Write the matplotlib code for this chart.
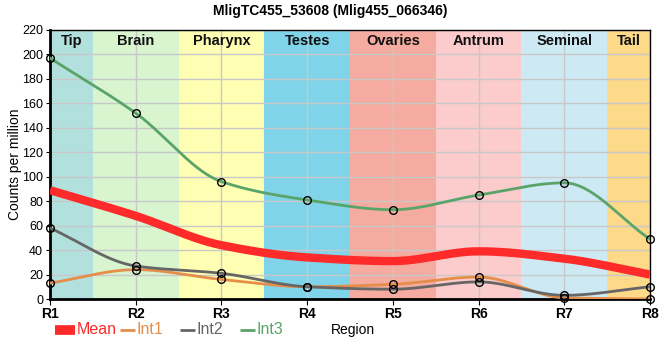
import matplotlib
matplotlib.use("Agg")
import matplotlib.pyplot as plt
from matplotlib.lines import Line2D
import numpy as np

plt.rcParams["font.family"] = ["Liberation Sans", "DejaVu Sans"]

# data
regions = ["R1", "R2", "R3", "R4", "R5", "R6", "R7", "R8"]
mean_vals = [89, 68, 44, 34, 31, 39, 33, 20]
int1 = [13, 24, 16, 10, 12, 18, 1, 0]
int2 = [58, 27, 21, 10, 8, 14, 3, 10]
int3 = [197, 152, 96, 81, 73, 85, 95, 49]

tissues = ["Tip", "Brain", "Pharynx", "Testes", "Ovaries", "Antrum", "Seminal", "Tail"]
tissue_colors = ["#b2e0dc", "#d8f5d0", "#ffffb3", "#80d4ea",
                 "#f5ab9f", "#fccbcb", "#cdeaf4", "#fdd98a"]


def monotone(x, y, n=40):
    # monotone cubic (Fritsch-Carlson) for a smooth path through the points
    x = np.asarray(x, float)
    y = np.asarray(y, float)
    h = np.diff(x)
    d = np.diff(y) / h
    m = np.zeros_like(y)
    m[0], m[-1] = d[0], d[-1]
    for i in range(1, len(y) - 1):
        if d[i - 1] * d[i] <= 0:
            m[i] = 0
        else:
            m[i] = 3 * (h[i - 1] + h[i]) / ((2 * h[i] + h[i - 1]) / d[i - 1] + (h[i] + 2 * h[i - 1]) / d[i])
    xs, ys = [], []
    for i in range(len(h)):
        t = np.linspace(0, 1, n)
        h00 = 2 * t**3 - 3 * t**2 + 1
        h10 = t**3 - 2 * t**2 + t
        h01 = -2 * t**3 + 3 * t**2
        h11 = t**3 - t**2
        xs.append(x[i] + t * h[i])
        ys.append(h00 * y[i] + h10 * h[i] * m[i] + h01 * y[i + 1] + h11 * h[i] * m[i + 1])
    return np.concatenate(xs), np.concatenate(ys)


fig = plt.figure(figsize=(6.6, 3.6), dpi=100)
ax = fig.add_axes([50 / 660, 1 - 299 / 360, 600 / 660, 269 / 360])

xpos = np.arange(len(regions))
for i, (name, col) in enumerate(zip(tissues, tissue_colors)):
    lo = max(i - 0.5, 0)
    hi = min(i + 0.5, len(regions) - 1)
    ax.axvspan(lo, hi, color=col, lw=0, zorder=0)
    ax.text((lo + hi) / 2, 211, name, ha="center", va="center",
            fontsize=10.5, fontweight="bold", color="#111111", zorder=5)

ax.grid(True, color="#c8c8c8", lw=1, zorder=1)

c_mean = "#ff2a2a"
c1 = "#e58e4a"
c2 = "#666666"
c3 = "#5aa469"

sx, sy = monotone(xpos, mean_vals)
ax.plot(sx, sy, color=c_mean, lw=6, solid_capstyle="butt", zorder=3)
for vals, col in [(int1, c1), (int2, c2), (int3, c3)]:
    sx, sy = monotone(xpos, vals)
    ax.plot(sx, sy, color=col, lw=2, zorder=3)
    ax.plot(xpos, vals, "o", ms=5.5, mfc="none", mec="black", mew=1,
            zorder=4, clip_on=False)

ax.set_xlim(0, len(regions) - 1)
ax.set_ylim(0, 220)
ax.set_yticks(np.arange(0, 221, 20))
ax.set_xticks(xpos)
ax.set_xticklabels(regions, fontweight="bold", fontsize=10)
ax.tick_params(axis="y", labelsize=9, length=3, pad=2)
ax.tick_params(axis="x", length=4, pad=2)

for s in ["top", "right"]:
    ax.spines[s].set_linewidth(1)
for s in ["left", "bottom"]:
    ax.spines[s].set_linewidth(2)

fig.text(15 / 660, 1 - 164 / 360, "Counts per million", fontsize=10,
         rotation=90, ha="center", va="center")
fig.text(331 / 660, 1 - 330 / 360, "Region", fontsize=10, ha="left", va="center")
fig.suptitle("MligTC455_53608 (Mlig455_066346)", x=0.5, y=0.99,
             fontsize=10, fontweight="bold", va="top")

# legend along the bottom
ly = 1 - 330 / 360
legend_items = [("Mean", c_mean, 7, 55, 75), ("Int1", c1, 2, 120, 135),
                ("Int2", c2, 2, 180, 195), ("Int3", c3, 2, 240, 255)]
for lab, col, lw, x0, x1 in legend_items:
    fig.add_artist(Line2D([x0 / 660, x1 / 660], [ly, ly], color=col, lw=lw,
                          solid_capstyle="butt", transform=fig.transFigure))
    fig.text((x1 + 2) / 660, ly, lab, color=col, fontsize=11.5, ha="left", va="center")

fig.savefig("out.png", dpi=100)
